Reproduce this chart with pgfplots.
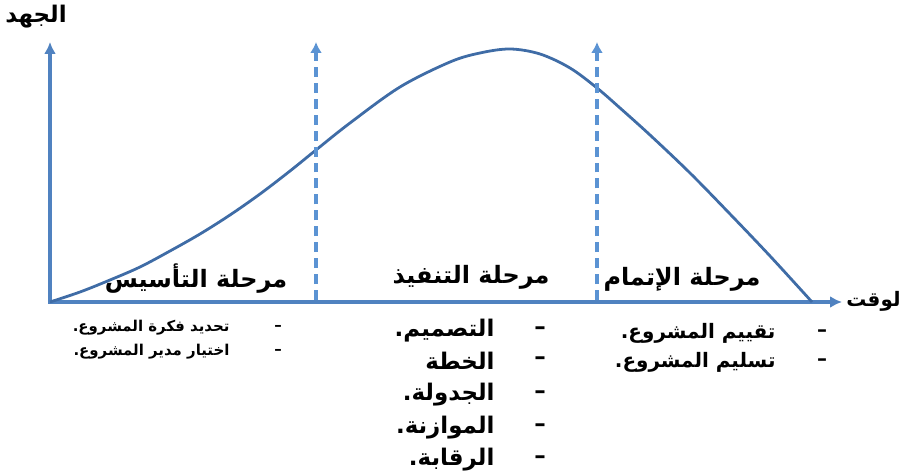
\documentclass[border=0pt]{standalone}
\usepackage{fontspec}
\usepackage{pgfplots}
\pgfplotsset{compat=1.18}
\usetikzlibrary{arrows.meta}
\TeXXeTstate=1
\newfontfamily\arabicfont[Script=Arabic, BoldFont={DejaVu Sans Bold}]{DejaVu Sans}
\definecolor{axisblue}{HTML}{5082C0}
\definecolor{curveblue}{HTML}{3F6CA6}
\definecolor{dashblue}{HTML}{5B93D3}

\pgfplotstableread{
x y
50 173
80 183
110 195
140 208
170 224
200 241
230 260
260 281
290 304
316 325
350 352
400 388
450 413
480 422
510 426
540 421
570 407
597 387
620 367
650 340
690 302
730 261
770 219
812 173
}\effort

\newcommand{\ar}[1]{{\arabicfont\bfseries\beginR #1\endR}}
\newcommand{\dash}{{\arabicfont\bfseries –}}

\begin{document}
\begin{tikzpicture}
\begin{axis}[
    x=1bp, y=1bp,
    xmin=50, xmax=840,
    ymin=173, ymax=432,
    axis lines=none,
    clip=false,
    every node/.append style={inner sep=0pt},
]
\path (axis cs:0,0) rectangle (axis cs:906,475);

% axes
\addplot[draw=axisblue, line width=3.6pt, -{Latex[length=12pt,width=12pt]}]
    coordinates {(48,173) (842,173)};
\addplot[draw=axisblue, line width=3.6pt, -{Latex[length=12pt,width=12pt]}]
    coordinates {(50,171) (50,433)};

\addplot[curveblue, line width=2.8pt, smooth, tension=0.55] table[x=x,y=y] {\effort};

% phase boundaries
\addplot[dashblue, line width=3.5pt, dash pattern=on 10pt off 6pt, -{Latex[length=11pt,width=12pt]}]
    coordinates {(316,175) (316,433)};
\addplot[dashblue, line width=3.5pt, dash pattern=on 10pt off 6pt, -{Latex[length=11pt,width=12pt]}]
    coordinates {(597,175) (597,433)};

% axis titles
\node[font=\fontsize{23}{26}\selectfont] at (axis cs:36,458) {\ar{الجهد}};
\node[anchor=east, font=\fontsize{20}{23}\selectfont] at (axis cs:904,174) {\ar{لوقت}};

% phase names
\node[font=\fontsize{24}{28}\selectfont] at (axis cs:196,196) {\ar{مرحلة التأسيس}};
\node[font=\fontsize{24}{28}\selectfont] at (axis cs:471,198) {\ar{مرحلة التنفيذ}};
\node[font=\fontsize{24}{28}\selectfont] at (axis cs:682,196) {\ar{مرحلة الإتمام}};

% list: foundation phase
\begin{scope}[font=\fontsize{15}{18}\selectfont]
\node at (axis cs:278,147) {\dash};
\node at (axis cs:278,123) {\dash};
\node[anchor=east] at (axis cs:233,147) {\ar{تحديد فكرة المشروع.}};
\node[anchor=east] at (axis cs:233,123) {\ar{اختيار مدير المشروع.}};
\end{scope}

% list: execution phase
\begin{scope}[font=\fontsize{23}{26}\selectfont]
\node at (axis cs:540,144) {\dash};
\node at (axis cs:540,114) {\dash};
\node at (axis cs:540,80) {\dash};
\node at (axis cs:540,47) {\dash};
\node at (axis cs:540,15) {\dash};
\node[anchor=east] at (axis cs:498,144) {\ar{التصميم.}};
\node[anchor=east] at (axis cs:498,114) {\ar{الخطة}};
\node[anchor=east] at (axis cs:498,80) {\ar{الجدولة.}};
\node[anchor=east] at (axis cs:498,47) {\ar{الموازنة.}};
\node[anchor=east] at (axis cs:498,15) {\ar{الرقابة.}};
\end{scope}

% list: completion phase
\begin{scope}[font=\fontsize{20}{23}\selectfont]
\node at (axis cs:822,142) {\dash};
\node at (axis cs:822,113) {\dash};
\node[anchor=east] at (axis cs:779,142) {\ar{تقييم المشروع.}};
\node[anchor=east] at (axis cs:779,113) {\ar{تسليم المشروع.}};
\end{scope}
\end{axis}
\end{tikzpicture}
\end{document}
